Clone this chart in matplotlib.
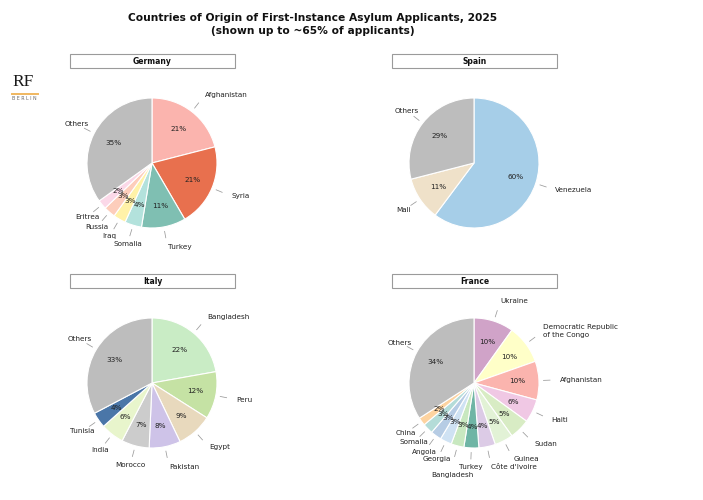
import numpy as np
import matplotlib.pyplot as plt
from matplotlib.patches import Rectangle
from matplotlib.lines import Line2D

# ---- data (shares in %) ----
germany_labels = ["Afghanistan", "Syria", "Turkey", "Somalia", "Iraq", "Russia", "Eritrea", "Others"]
germany_values = [21.0, 20.6, 11.0, 4.2, 3.1, 2.9, 2.3, 34.9]
germany_colors = ["#fbb4ae", "#e8704e", "#7fbfb2", "#b3e2dc", "#fff2a8", "#fdcdbb", "#fbd8e8", "#bdbdbd"]

spain_labels = ["Venezuela", "Mali", "Others"]
spain_values = [60.2, 10.8, 29.0]
spain_colors = ["#a6cee8", "#efe1c9", "#bdbdbd"]

italy_labels = ["Bangladesh", "Peru", "Egypt", "Pakistan", "Morocco", "India", "Tunisia", "Others"]
italy_values = [22.2, 11.8, 8.9, 7.8, 6.9, 5.8, 3.9, 32.7]
italy_colors = ["#c9ecc5", "#c5e2a4", "#e8d9bd", "#cec3e8", "#cccccc", "#e8f5cc", "#4a76a8", "#bdbdbd"]

france_labels = ["Ukraine", "Democratic Republic\nof the Congo", "Afghanistan", "Haiti", "Sudan",
                 "Guinea", "Côte d'Ivoire", "Turkey", "Bangladesh", "Georgia", "Angola",
                 "Somalia", "China", "Others"]
france_values = [9.9, 9.7, 9.6, 5.8, 5.1, 4.6, 4.1, 3.7, 3.2, 2.9, 2.7, 2.6, 2.0, 34.1]
france_colors = ["#d0a3c8", "#ffffc8", "#fbb4ae", "#f0c8e4", "#d8ecc4", "#e2f2d6", "#dccbe6",
                 "#6fb5a5", "#c8e8c0", "#cfe2f3", "#b6cce4", "#b4dcd8", "#fdd3a0", "#bdbdbd"]

title = "Countries of Origin of First-Instance Asylum Applicants, 2025\n(shown up to ~65% of applicants)"

W, H = 703, 500
R = 65          # pie radius in px
LIM = 1.6

panels = [
    ("Germany", germany_labels, germany_values, germany_colors, (152, 163), (70, 235, 54, 68), {}),
    ("Spain", spain_labels, spain_values, spain_colors, (474, 163), (392, 557, 54, 68), {}),
    ("Italy", italy_labels, italy_values, italy_colors, (152, 383), (70, 235, 274, 288), {}),
    ("France", france_labels, france_values, france_colors, (474, 383), (392, 557, 274, 288),
     {"Bangladesh": 0.17}),
]

plt.rcParams['font.family'] = ['DejaVu Sans']
fig = plt.figure(figsize=(W / 100, H / 100), dpi=100)
fig.patch.set_facecolor("white")

fig.text(313 / W, 1 - 24.5 / H, title, ha="center", va="center", fontsize=7.7,
         fontweight="bold", color="#111111", linespacing=1.35)

# logo
fig.text(12 / W, 1 - 82 / H, "RF", ha="left", va="center", fontsize=12.5,
         family="Liberation Serif", color="#1a1a1a")
fig.add_artist(Line2D([12 / W, 38 / W], [1 - 93.5 / H, 1 - 93.5 / H], color="#f0b860", lw=1.4))
fig.text(12.5 / W, 1 - 99 / H, "B E R L I N", ha="left", va="center", fontsize=3.4, color="#666666")

for name, labels, values, colors, (cx, cy), (bx0, bx1, by0, by1), push in panels:
    # header box
    fig.add_artist(Rectangle((bx0 / W, 1 - by1 / H), (bx1 - bx0) / W, (by1 - by0) / H,
                             transform=fig.transFigure, facecolor="white",
                             edgecolor="#9a9a9a", lw=0.8))
    fig.text((bx0 + bx1) / 2 / W, 1 - (by0 + by1) / 2 / H, name, ha="center", va="center",
             fontsize=5.5, fontweight="bold", color="#111111")

    L = LIM * R
    ax = fig.add_axes([(cx - L) / W, (H - cy - L) / H, 2 * L / W, 2 * L / H])

    wedges, _, autotexts = ax.pie(values, colors=colors, startangle=90, counterclock=False,
                                  radius=1, autopct="%1.0f%%", pctdistance=0.67,
                                  wedgeprops=dict(edgecolor="white", linewidth=0.8),
                                  textprops=dict(fontsize=5.2, color="#222222"))
    # pie() resets the limits, so set them afterwards
    ax.set_xlim(-LIM, LIM)
    ax.set_ylim(-LIM, LIM)
    ax.axis("off")

    for w, lab in zip(wedges, labels):
        ang = np.deg2rad((w.theta1 + w.theta2) / 2)
        c, s = np.cos(ang), np.sin(ang)
        ax.plot([1.07 * c, 1.17 * c], [1.07 * s, 1.17 * s], color="#9a9a9a", lw=0.55)
        extra = push.get(lab, 0)
        if c > 0:
            ax.text(1.32 * c, (1.32 + extra) * s, lab, ha="left", va="center",
                    fontsize=5.2, color="#222222", linespacing=1.4)
        else:
            ax.text(1.3 * c, (1.3 + extra) * s, lab, ha="center", va="center",
                    fontsize=5.2, color="#222222", linespacing=1.4)

fig.savefig("out.png", dpi=100, facecolor="white")
